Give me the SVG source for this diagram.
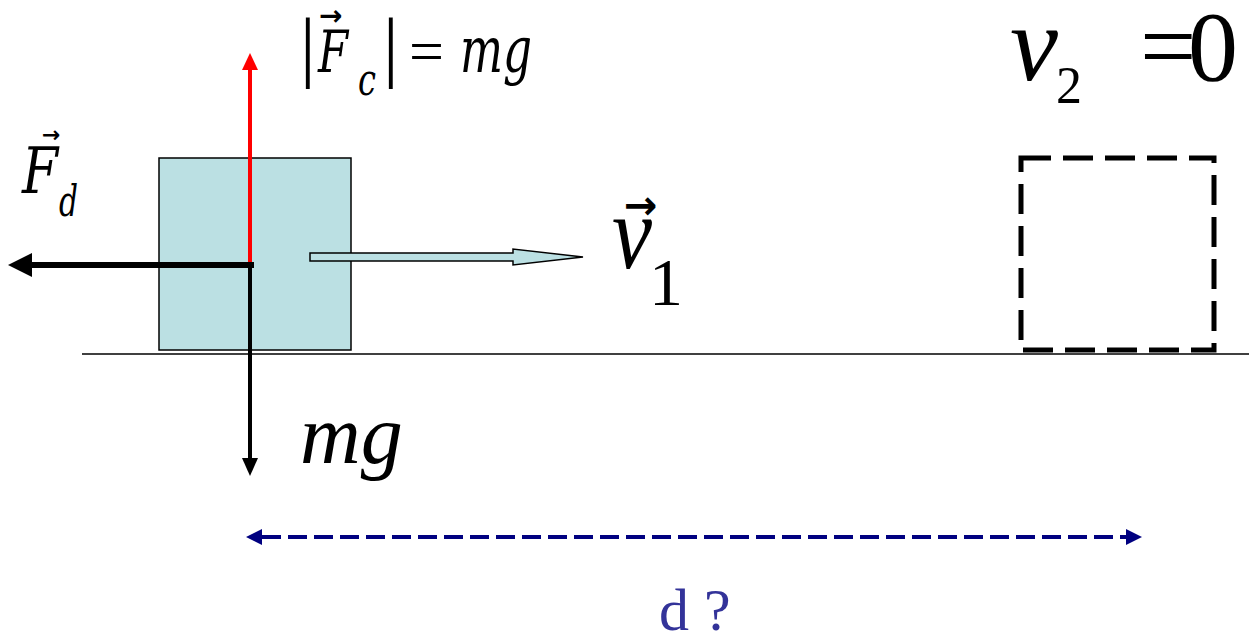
<svg xmlns="http://www.w3.org/2000/svg" width="1251" height="636" viewBox="0 0 1251 636">
<defs>
<style>
.ti{font-family:"Liberation Serif","Times New Roman",serif;font-style:italic;fill:#000}
.tr{font-family:"Liberation Serif","Times New Roman",serif;fill:#000}
.cm{font-family:"DejaVu Serif Condensed","DejaVu Serif",serif;font-style:italic;fill:#000}
.bar{font-family:"Liberation Serif","Times New Roman",serif;fill:#000}
.vec{font-family:"DejaVu Sans",sans-serif;font-weight:bold;fill:#000}
.force{fill:none;stroke-linecap:butt}
</style>
<marker id="navyHead" viewBox="0 0 16 16" markerWidth="16" markerHeight="16" markerUnits="userSpaceOnUse" refX="0" refY="8" orient="auto-start-reverse">
<path d="M0,0 L16,8 L0,16 z" fill="#000080"/>
</marker>
</defs>
<rect width="1251" height="636" fill="#fff"/>

<g id="ground">
<line x1="82" y1="354" x2="1249" y2="354" stroke="#000" stroke-width="1.5"/>
</g>

<g id="block">
<rect x="159" y="158" width="192" height="192" fill="#bbe0e3" stroke="#000" stroke-width="1.5"/>
</g>

<g id="final-position">
<rect x="1021" y="158" width="193" height="192" fill="none" stroke="#000" stroke-width="5" stroke-dasharray="30 12"/>
</g>

<g id="connectors">
<line class="force" x1="250" y1="265" x2="250" y2="68" stroke="#ff0000" stroke-width="4"/>
<polygon points="250,53 242,70 258,70" fill="#ff0000"/>
<line class="force" x1="250" y1="263" x2="250" y2="460" stroke="#000" stroke-width="4"/>
<polygon points="250,476 242,458 258,458" fill="#000"/>
<line class="force" x1="254" y1="265" x2="30" y2="265" stroke="#000" stroke-width="6"/>
<polygon points="8,265 32,253 32,277" fill="#000"/>
<polygon points="310,253 513,253 513,249 583,257 513,265 513,261 310,261" fill="#bbe0e3" stroke="#000" stroke-width="1.5" stroke-linejoin="miter"/>
<line x1="262" y1="537" x2="1126" y2="537" stroke="#000080" stroke-width="4" stroke-dasharray="19 7" marker-start="url(#navyHead)" marker-end="url(#navyHead)"/>
</g>

<g id="label-Fc">
<text class="bar" x="300" y="72" font-size="78">|</text>
<text class="vec" x="319" y="25" font-size="28">→</text>
<text class="cm" x="318" y="72" font-size="58" textLength="30" lengthAdjust="spacingAndGlyphs">F</text>
<text class="cm" x="358" y="95" font-size="44" textLength="18" lengthAdjust="spacingAndGlyphs">c</text>
<text class="bar" x="383" y="72" font-size="78">|</text>
<text class="bar" x="409" y="72" font-size="62">=</text>
<text class="cm" x="460" y="72" font-size="64" textLength="72" lengthAdjust="spacingAndGlyphs">mg</text>
</g>

<g id="label-Fd">
<text class="vec" x="42" y="142" font-size="22">→</text>
<text class="cm" x="22" y="193" font-size="64" textLength="36" lengthAdjust="spacingAndGlyphs">F</text>
<text class="cm" x="59" y="216" font-size="42" textLength="19" lengthAdjust="spacingAndGlyphs">d</text>
</g>

<g id="label-v1">
<text class="vec" x="624" y="219" font-size="40">→</text>
<text class="ti" x="612" y="268" font-size="106" textLength="40" lengthAdjust="spacingAndGlyphs">v</text>
<text class="tr" x="649" y="305" font-size="68">1</text>
</g>

<g id="label-v2">
<text class="ti" x="1010" y="80" font-size="108">v</text>
<text class="tr" x="1056" y="103" font-size="52">2</text>
<text class="tr" x="1140" y="80" font-size="100">=</text>
<text class="tr" x="1188" y="80" font-size="100">0</text>
</g>

<g id="label-mg">
<text class="ti" x="300" y="463" font-size="84">mg</text>
</g>

<g id="label-d">
<text class="tr" x="659" y="630" font-size="60" style="fill:#333399">d ?</text>
</g>
</svg>
